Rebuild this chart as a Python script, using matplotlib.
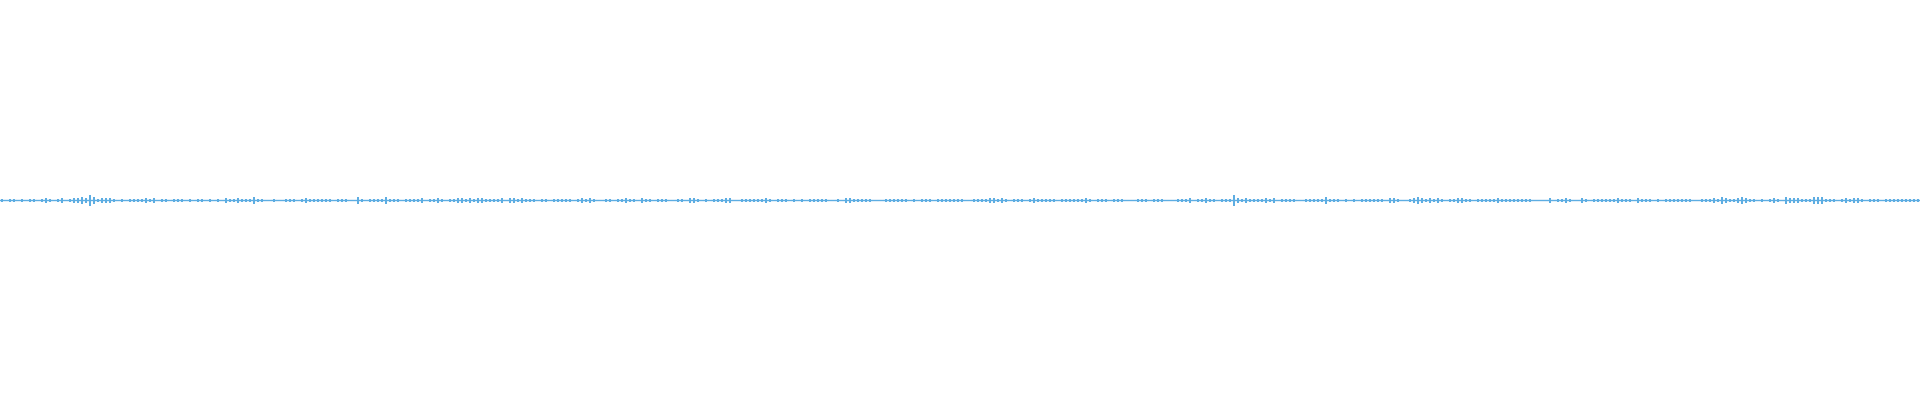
import numpy as np
from matplotlib import pyplot as plt

# amplitude estimates, one value per 4 px column, split in 4 chunks of 480 px
amp_part1 = [1, 0, 1, 1, 0, 1, 0, 1, 1, 0, 1, 2, 1, 0, 1, 2, 0, 1, 2, 2,
             3, 2, 5, 3, 1, 2, 2, 2, 1, 0, 1, 0, 1, 1, 1, 1, 2, 1, 2, 0,
             1, 1, 0, 1, 1, 1, 0, 1, 0, 1, 1, 0, 1, 0, 1, 0, 2, 1, 1, 2,
             1, 1, 1, 3, 1, 1, 0, 0, 1, 0, 0, 1, 1, 1, 0, 1, 2, 1, 1, 1,
             1, 1, 1, 0, 1, 1, 1, 0, 0, 3, 1, 0, 1, 1, 1, 1, 3, 1, 1, 1,
             0, 1, 1, 1, 1, 2, 0, 1, 1, 2, 1, 0, 1, 1, 2, 2, 1, 2, 1, 2]
amp_part2 = [2, 1, 1, 1, 1, 2, 0, 2, 2, 1, 2, 1, 1, 1, 0, 1, 1, 0, 1, 1,
             1, 1, 1, 0, 1, 2, 1, 2, 1, 0, 0, 1, 1, 0, 1, 1, 2, 1, 1, 0,
             2, 1, 1, 0, 1, 1, 1, 0, 0, 1, 1, 0, 2, 2, 1, 0, 1, 0, 1, 1,
             1, 2, 2, 0, 0, 1, 1, 1, 1, 1, 1, 2, 1, 0, 1, 1, 1, 0, 1, 0,
             1, 0, 1, 1, 1, 1, 1, 0, 0, 1, 0, 2, 2, 1, 1, 1, 1, 1, 0, 0,
             0, 1, 1, 1, 1, 1, 1, 0, 1, 0, 1, 1, 1, 0, 1, 1, 1, 1, 1, 1]
amp_part3 = [1, 0, 0, 1, 1, 1, 1, 2, 2, 1, 2, 1, 0, 1, 1, 1, 0, 1, 2, 1,
             1, 1, 1, 1, 0, 1, 1, 1, 1, 1, 1, 2, 1, 0, 1, 1, 1, 0, 1, 1,
             1, 0, 0, 0, 1, 1, 1, 0, 1, 1, 1, 0, 0, 0, 1, 1, 1, 2, 0, 1,
             1, 2, 1, 1, 0, 1, 1, 1, 5, 2, 1, 2, 1, 1, 1, 1, 2, 1, 2, 0,
             1, 1, 1, 1, 0, 0, 1, 1, 1, 1, 1, 3, 1, 1, 1, 0, 1, 0, 1, 0,
             1, 1, 1, 1, 1, 1, 0, 2, 2, 1, 0, 0, 1, 2, 3, 2, 1, 2, 1, 2]
amp_part4 = [1, 0, 1, 1, 2, 2, 1, 1, 0, 1, 1, 1, 1, 1, 2, 1, 1, 1, 1, 1,
             1, 1, 1, 0, 0, 0, 0, 2, 0, 1, 1, 2, 1, 0, 0, 2, 1, 0, 1, 1,
             1, 1, 1, 1, 2, 1, 1, 1, 0, 2, 1, 1, 1, 0, 1, 0, 1, 1, 1, 1,
             1, 1, 1, 0, 0, 1, 1, 1, 2, 1, 3, 2, 1, 1, 2, 3, 2, 1, 1, 0,
             1, 0, 1, 2, 1, 0, 3, 2, 2, 2, 1, 1, 1, 3, 3, 3, 1, 1, 1, 0,
             1, 2, 1, 2, 2, 1, 0, 1, 1, 1, 0, 1, 1, 1, 1, 1, 1, 1, 1, 1]

amps = np.array(amp_part1 + amp_part2 + amp_part3 + amp_part4, dtype=float)
# half height in pixels
half = np.where(amps > 0, amps + 0.5, 0)
xs = np.arange(len(amps)) * 4 + 2

color = '#5DADE2'

fig = plt.figure(figsize=(19.2, 4), dpi=100)
ax = fig.add_axes([0, 0, 1, 1])
ax.bar(xs, 2 * half, bottom=-half, width=2.0, color=color, linewidth=0)
ax.axhline(0, color=color, linewidth=1.0)
ax.set_xlim(0, 1920)
ax.set_ylim(-200, 200)
ax.axis('off')
fig.savefig('out.png', dpi=100, facecolor='white')
